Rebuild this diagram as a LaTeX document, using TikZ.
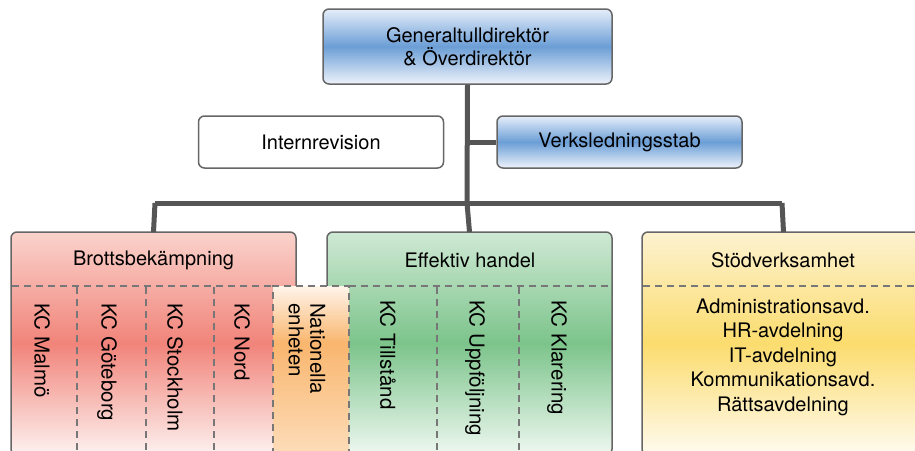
\documentclass[tikz,border=0pt]{standalone}
\usepackage{fontspec}
\setmainfont{TeX Gyre Heros}
\usetikzlibrary{calc}
\definecolor{bord}{HTML}{666666}
\definecolor{conn}{HTML}{555555}
\definecolor{dashc}{HTML}{777777}
\definecolor{bluetop}{HTML}{E6EEFA}
\definecolor{bluemid}{HTML}{6B9ED6}
\definecolor{bluebot}{HTML}{EEF3FB}
\definecolor{redtop}{HTML}{FAD3CC}
\definecolor{redmid}{HTML}{F1847A}
\definecolor{redbot}{HTML}{FDF2F0}
\definecolor{grntop}{HTML}{CFE9D4}
\definecolor{grnmid}{HTML}{7CC48B}
\definecolor{grnbot}{HTML}{EFF8F1}
\definecolor{yeltop}{HTML}{FDF2D0}
\definecolor{yelmid}{HTML}{FBDC6E}
\definecolor{yelbot}{HTML}{FFFBF0}
\definecolor{orgtop}{HTML}{FFF4EA}
\definecolor{orgmid}{HTML}{F9B66E}
\definecolor{orgbot}{HTML}{FDDDBA}
\tikzset{
  txt/.style={font=\fontsize{20}{23}\selectfont, text=black, inner sep=0pt},
  vtxt/.style={txt, rotate=-90, anchor=west, align=left, font=\fontsize{20.5}{21.5}\selectfont},
  bluebox/.style={draw=bord, line width=1.5pt, rounded corners=6pt, top color=bluetop, bottom color=bluebot, middle color=bluemid, minimum height=52pt, align=center, txt},
  whitebox/.style={draw=bord, line width=1.5pt, rounded corners=6pt, fill=white, minimum height=52pt, txt},
  conline/.style={draw=conn, line width=5pt},
  sep/.style={draw=dashc, line width=1.2pt, dash pattern=on 7pt off 5pt},
  outline/.style={draw=bord, line width=1.5pt, rounded corners=6pt}
}
\begin{document}
\begin{tikzpicture}[x=1pt,y=-1pt]
\useasboundingbox (0,0) rectangle (915,450);
\clip (0,0) rectangle (915,450);

\coordinate (barL) at (155,203);
\coordinate (barM) at (467,203);
\coordinate (barR) at (782,203);
\coordinate (trunkV) at (467,142);

% top boxes
\node[bluebox, minimum width=289pt, minimum height=75pt] (gd) at (467.5,46.5) {Generaltulldirektör\\\& Överdirektör};
\node[whitebox, minimum width=245pt] (ir) at (321,142) {Internrevision};
\node[bluebox, minimum width=245pt] (vs) at (619.5,142) {Verksledningsstab};

% bottom group boxes
\path[outline, top color=redtop, bottom color=redbot, middle color=redmid] (11,232) rectangle (296,455);
\path[outline, top color=grntop, bottom color=grnbot, middle color=grnmid] (327,232) rectangle (612,455);
\path[outline, top color=yeltop, bottom color=yelbot, middle color=yelmid] (642,232) rectangle (925,455);
\coordinate (bkTop) at (153.5,232);
\coordinate (ehTop) at (469.5,232);
\coordinate (svTop) at (783.5,232);

% connector lines
\draw[conline] (gd.south) -- (barM);
\draw[conline] (trunkV) -- (vs.west);
\draw[conline] (barL) -- (barR);
\draw[conline] (barL) -- (bkTop);
\draw[conline] (barM) -- (ehTop);
\draw[conline] (barR) -- (svTop);

% header separators
\draw[sep] (12,286) -- (273,286);
\draw[sep] (349,286) -- (611,286);
\draw[sep] (643,286) -- (915,286);

% column dividers
\foreach \xx in {77,146,214,437,519}
  \draw[sep] (\xx,287) -- (\xx,452);

% Nationella enheten box
\fill[top color=orgtop, bottom color=orgmid] (273,286) rectangle (349,343);
\fill[top color=orgmid, bottom color=orgbot] (273,343) rectangle (349,455);
\draw[sep] (273,455) -- (273,286) -- (349,286) -- (349,455);

% headers
\node[txt] (bk) at (153.5,260) {Brottsbekämpning};
\node[txt] (eh) at (470,260) {Effektiv handel};
\node[txt] (sv) at (783,260) {Stödverksamhet};

% vertical texts
\node[vtxt] (malmo) at (42,303) {KC Malmö};
\node[vtxt] (gbg) at (107,303) {KC Göteborg};
\node[vtxt] (sthlm) at (175,303) {KC Stockholm};
\node[vtxt] (nord) at (242,303) {KC Nord};
\node[vtxt] (nat) at (307,303) {Nationella\\enheten};
\node[vtxt] (till) at (388,300) {KC Tillstånd};
\node[vtxt] (uppf) at (475,300) {KC Uppföljning};
\node[vtxt] (klar) at (557,300) {KC Klarering};

% support list
\node[txt, align=center, font=\fontsize{20}{24.5}\selectfont] (list) at (783,357) {Administrationsavd.\\HR-avdelning\\IT-avdelning\\Kommunikationsavd.\\Rättsavdelning};
\end{tikzpicture}
\end{document}
